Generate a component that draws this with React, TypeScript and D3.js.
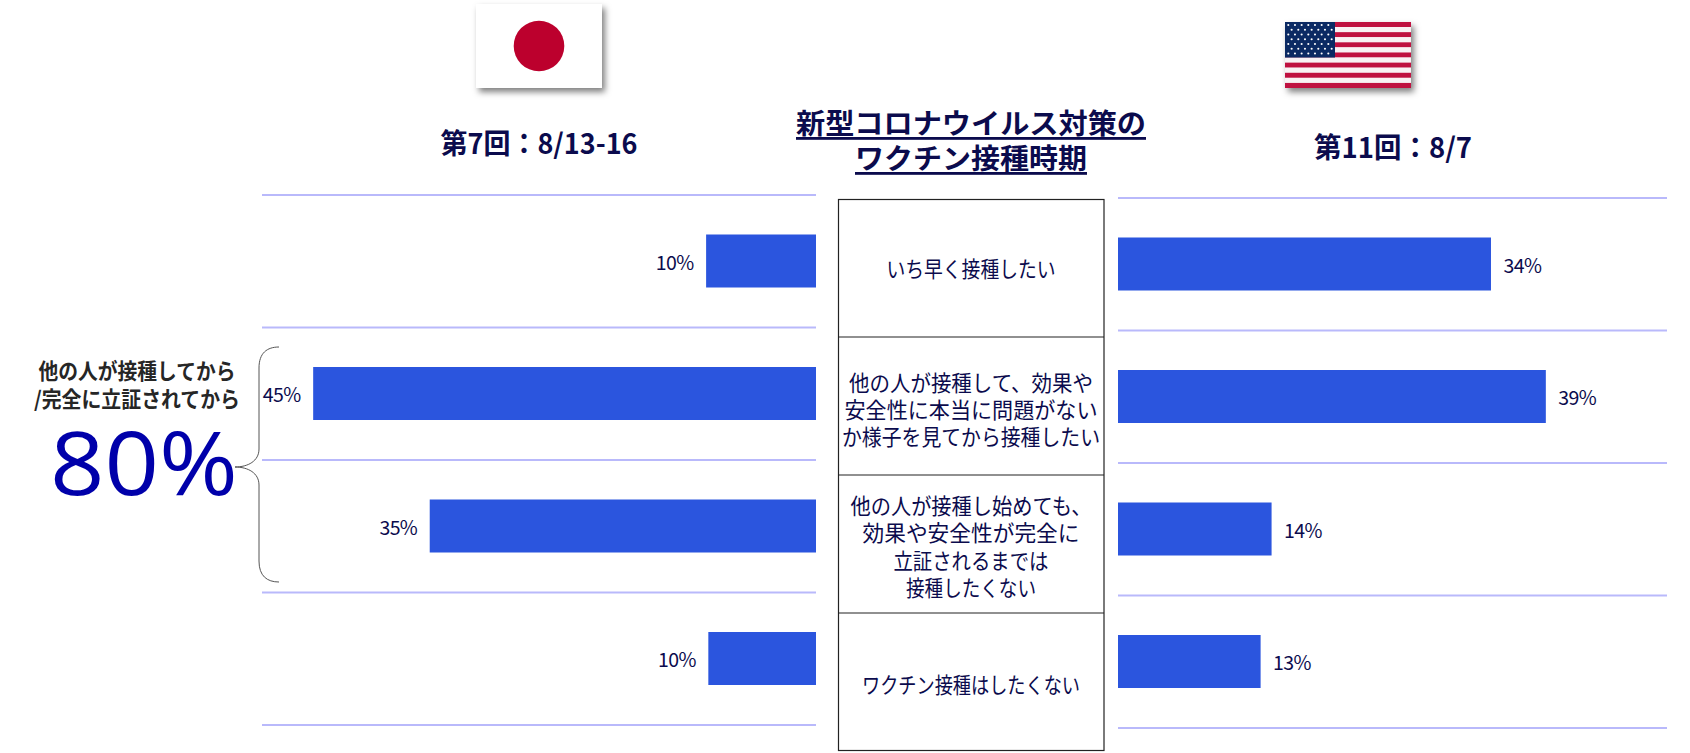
import React from "react";
import * as d3 from "d3";

const W = 1690, H = 753;
const NAVY = "#0B0B4D";
const BLUE = "#2B55DE";
const GRID = "#B9B9FB";

const categories: string[][] = [
  ["いち早く接種したい"],
  ["他の人が接種して、効果や", "安全性に本当に問題がない", "か様子を見てから接種したい"],
  ["他の人が接種し始めても、", "効果や安全性が完全に", "立証されるまでは", "接種したくない"],
  ["ワクチン接種はしたくない"],
];
const categoryWidths: number[][] = [[169], [244, 253, 258], [241, 217, 155, 130], [218]];
const rowCenters = [267, 408, 545, 683];
const japanValues = [9.9, 45.3, 34.8, 9.7];
const japanLabels = ["10%", "45%", "35%", "10%"];
const usaValues = [34, 39, 14, 13];
const usaLabels = ["34%", "39%", "14%", "13%"];
const japanTitle = "第7回：8/13-16";
const usaTitle = "第11回：8/7";
const centerTitle = ["新型コロナウイルス対策の", "ワクチン接種時期"];
const noteLines = ["他の人が接種してから", "/完全に立証されてから"];
const noteValue = "80%";

const FONT = "'Noto Sans CJK JP','Noto Sans',sans-serif";

const xLeft = d3.scaleLinear().domain([0, 50]).range([816, 261]);
const xRight = d3.scaleLinear().domain([0, 50]).range([1118, 1666.5]);
const BAR_H = 53;
const leftTicks = [0, 1, 2, 3, 4].map((i) => 195 + i * 132.5);
const rightTicks = [0, 1, 2, 3, 4].map((i) => 198 + i * 132.5);
const tableRows = [199, 337, 475, 613, 751];

function UsaFlag() {
  const x0 = 1285, y0 = 22, w = 126, h = 66;
  const sh = h / 13;
  const cw = 50, ch = sh * 7;
  const stars: [number, number][] = [];
  for (let r = 0; r < 7; r++) {
    for (let c = 0; c < 7; c++) {
      stars.push([x0 + 3.3 + c * 6.67 + (r % 2 ? 3.33 : 0), y0 + 3 + r * 4.75]);
    }
  }
  return (
    <g>
      <rect x={x0} y={y0} width={w} height={h} fill="#fff" filter="url(#flagShadow)" />
      {d3.range(13).map((i) => (
        <rect key={i} x={x0} y={y0 + i * sh} width={w} height={sh} fill={i % 2 === 0 ? "#BF1140" : "#F8F2F4"} />
      ))}
      <rect x={x0} y={y0} width={cw} height={ch} fill="#0B2A63" />
      {stars.map(([a, b], i) => (
        <circle key={i} cx={a} cy={b} r={1.05} fill="#fff" />
      ))}
    </g>
  );
}

function Bars({ values, labels, x, yTop, side }: { values: number[]; labels: string[]; x: d3.ScaleLinear<number, number>; yTop: number; side: "l" | "r" }) {
  return (
    <g>
      {values.map((v, i) => {
        const y = yTop + i * 132.5 + 39.5;
        const a = x(0), b = x(v);
        return (
          <g key={i}>
            <rect x={Math.min(a, b)} y={y} width={Math.abs(b - a)} height={BAR_H} fill={BLUE} />
            <text
              x={side === "l" ? b - 12.5 : b + 12.5}
              y={y + BAR_H / 2}
              dominantBaseline="central"
              textAnchor={side === "l" ? "end" : "start"}
              fontSize={19.5}
              letterSpacing={-0.6}
              fill={NAVY}
              fontFamily={FONT}
            >
              {labels[i]}
            </text>
          </g>
        );
      })}
    </g>
  );
}

export default function App() {
  const brace = d3.path();
  brace.moveTo(279, 347);
  brace.bezierCurveTo(267, 347, 259, 353, 259, 368);
  brace.lineTo(259, 449);
  brace.bezierCurveTo(259, 461, 248, 467, 235, 467);
  brace.bezierCurveTo(248, 467, 259, 473, 259, 485);
  brace.lineTo(259, 561);
  brace.bezierCurveTo(259, 576, 267, 582, 279, 582);

  return (
    <svg width={W} height={H} viewBox={`0 0 ${W} ${H}`} style={{ position: "absolute", left: 0, top: 0, display: "block", background: "#fff" }}>
      <defs>
        <filter id="flagShadow" x="-10%" y="-10%" width="125%" height="130%">
          <feDropShadow dx="3" dy="4" stdDeviation="3" floodColor="#000" floodOpacity="0.5" />
        </filter>
      </defs>

      {/* flags */}
      <rect x={476} y={4} width={126} height={84} fill="#fff" filter="url(#flagShadow)" />
      <circle cx={539} cy={46} r={25.3} fill="#BC002D" />
      <UsaFlag />

      {/* titles */}
      <text x={539} y={142} textAnchor="middle" dominantBaseline="central" fontSize={28} fontWeight={700} textLength={197} lengthAdjust="spacingAndGlyphs" fill={NAVY} fontFamily={FONT}>{japanTitle}</text>
      <text x={1393} y={146} textAnchor="middle" dominantBaseline="central" fontSize={28} fontWeight={700} textLength={158} lengthAdjust="spacingAndGlyphs" fill={NAVY} fontFamily={FONT}>{usaTitle}</text>
      {centerTitle.map((t, i) => (
        <text key={t} x={971} y={122 + i * 35} textAnchor="middle" dominantBaseline="central" fontSize={28} fontWeight={700} textLength={i === 0 ? 350 : 232} lengthAdjust="spacingAndGlyphs" textDecoration="underline" fill={NAVY} fontFamily={FONT}>{t}</text>
      ))}

      {/* grid */}
      {leftTicks.map((y) => (
        <line key={y} x1={262} x2={816} y1={y} y2={y} stroke={GRID} strokeWidth={2} />
      ))}
      {rightTicks.map((y) => (
        <line key={y} x1={1118} x2={1667} y1={y} y2={y} stroke={GRID} strokeWidth={2} />
      ))}

      <Bars values={japanValues} labels={japanLabels} x={xLeft} yTop={195} side="l" />
      <Bars values={usaValues} labels={usaLabels} x={xRight} yTop={198} side="r" />

      {/* table */}
      <rect x={838.5} y={199.5} width={265.5} height={551} fill="none" stroke="#222" strokeWidth={1.2} />
      {tableRows.slice(1, 4).map((y) => (
        <line key={y} x1={838.5} x2={1104} y1={y} y2={y} stroke="#222" strokeWidth={1.2} />
      ))}
      {categories.map((lines, i) =>
        lines.map((t, j) => (
          <text key={t} x={971} y={rowCenters[i] + (j - (lines.length - 1) / 2) * 27.3} textAnchor="middle" dominantBaseline="central" fontSize={22} textLength={categoryWidths[i][j]} lengthAdjust="spacingAndGlyphs" fill={NAVY} fontFamily={FONT}>{t}</text>
        ))
      )}

      {/* note */}
      {noteLines.map((t, i) => (
        <text key={t} x={137} y={369 + i * 28.5} textAnchor="middle" dominantBaseline="central" fontSize={21.5} fontWeight={700} textLength={i === 0 ? 197 : 206} lengthAdjust="spacingAndGlyphs" fill="#262626" fontFamily={FONT}>{t}</text>
      ))}
      <text x={144} y={461} textAnchor="middle" dominantBaseline="central" fontSize={88} textLength={188} lengthAdjust="spacingAndGlyphs" fill="#0000AA" fontFamily="'Open Sans',sans-serif">{noteValue}</text>
      <path d={brace.toString()} fill="none" stroke="#555" strokeWidth={1} />
    </svg>
  );
}
